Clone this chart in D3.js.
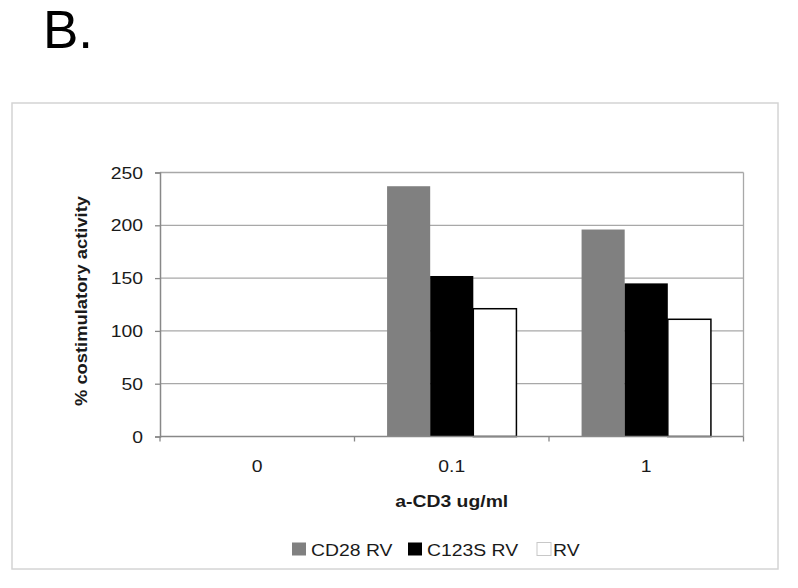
<!DOCTYPE html>
<html><head><meta charset="utf-8">
<script src="https://cdn.jsdelivr.net/npm/d3@7"></script>
<style>body{margin:0;background:#fff}svg{display:block}</style>
</head><body><svg id="c" width="798" height="588"></svg>
<script>
const categories = ["0", "0.1", "1"];
const seriesNames = ["CD28 RV", "C123S RV", "RV"];
const cd28 = [0, 237, 196];
const c123s = [0, 152, 145];
const rv = [0, 121, 111];
const yTicks = [0, 50, 100, 150, 200, 250];
const colors = ["#808080", "#000000", "#ffffff"];

const svg = d3.select("#c");
const font = "Liberation Sans, Arial, sans-serif";
const FS = 17, SX = 1.14;
const m = {l:160, r:743.5, t:172.5, b:436.5};

function txt(x, y, s, anchor, bold){
  return svg.append("text").attr("transform",`translate(${x},${y}) scale(${SX},1)`)
    .attr("text-anchor",anchor||"start").attr("font-family",font).attr("font-size",FS)
    .attr("font-weight",bold?"bold":"normal").attr("fill","#1a1a1a").text(s);
}

svg.append("text").attr("x",43).attr("y",48).attr("font-family",font)
  .attr("font-size",53).attr("fill","#000").text("B.");

svg.append("rect").attr("x",12).attr("y",103).attr("width",766).attr("height",466)
  .attr("fill","none").attr("stroke","#d4d4d4").attr("stroke-width",1.5);

const x0 = d3.scaleBand().domain(categories).range([m.l, m.r]).paddingInner(0.335).paddingOuter(0.1675);
const x1 = d3.scaleBand().domain(seriesNames).range([0, x0.bandwidth()]);
const y = d3.scaleLinear().domain([0,250]).range([m.b, m.t]);

// gridlines
svg.append("g").selectAll("line").data(yTicks.filter(d=>d>0)).join("line")
  .attr("x1",m.l).attr("x2",m.r).attr("y1",d=>y(d)).attr("y2",d=>y(d))
  .attr("stroke","#a8a8a8").attr("stroke-width",1.3);
svg.append("line").attr("x1",m.r).attr("x2",m.r).attr("y1",m.t).attr("y2",m.b)
  .attr("stroke","#a8a8a8").attr("stroke-width",1.3);

const data = categories.map((c,i)=>({c, vals:[cd28[i], c123s[i], rv[i]]}));
const g = svg.append("g");
data.forEach(d=>{
  d.vals.forEach((v,j)=>{
    if(v<=0) return;
    g.append("rect")
      .attr("x", x0(d.c)+x1(seriesNames[j]))
      .attr("y", y(v))
      .attr("width", x1.bandwidth())
      .attr("height", y(0)-y(v))
      .attr("fill", colors[j])
      .attr("stroke", j===2 ? "#000" : "none")
      .attr("stroke-width", 1.5);
  });
});

// y axis
const ya = svg.append("g").attr("transform",`translate(${m.l},0)`)
  .call(d3.axisLeft(y).tickValues(yTicks).tickSize(5));
ya.select(".domain").attr("stroke","#888").attr("stroke-width",1.5);
ya.selectAll(".tick line").attr("stroke","#888").attr("stroke-width",1.3);
ya.selectAll(".tick text").remove();
yTicks.forEach(t=>{ txt(143, y(t)+6, String(t), "end"); });

// x axis
const xa = svg.append("g").attr("transform",`translate(0,${m.b})`);
xa.append("line").attr("x1",m.l).attr("x2",m.r).attr("y1",0).attr("y2",0)
  .attr("stroke","#888").attr("stroke-width",1.5);
const bounds = categories.map(c=>x0(c)-x0.step()*x0.paddingInner()/2).concat([m.r]);
xa.selectAll("line.tk").data(bounds).join("line").attr("class","tk")
  .attr("x1",d=>d).attr("x2",d=>d).attr("y1",0).attr("y2",5)
  .attr("stroke","#888").attr("stroke-width",1.3);
categories.forEach(c=>{ txt(x0(c)+x0.bandwidth()/2, 472, c, "middle"); });

txt((m.l+m.r)/2, 507, "a-CD3 ug/ml", "middle", true);
svg.append("text").attr("transform",`translate(87,301) rotate(-90)`)
  .attr("text-anchor","middle").attr("font-family",font).attr("font-size",FS)
  .attr("font-weight","bold").attr("fill","#1a1a1a")
  .attr("textLength",210).attr("lengthAdjust","spacingAndGlyphs")
  .text("% costimulatory activity");

// legend
const leg = [{x:292, tx:311},{x:408, tx:427},{x:537, tx:553}];
seriesNames.forEach((s,i)=>{
  svg.append("rect").attr("x",leg[i].x).attr("y",542.5).attr("width",14).attr("height",13)
    .attr("fill",colors[i]).attr("stroke", i===2?"#c8c8c8":"none").attr("stroke-width",1);
  txt(leg[i].tx, 555.5, s, "start");
});
</script></body></html>
